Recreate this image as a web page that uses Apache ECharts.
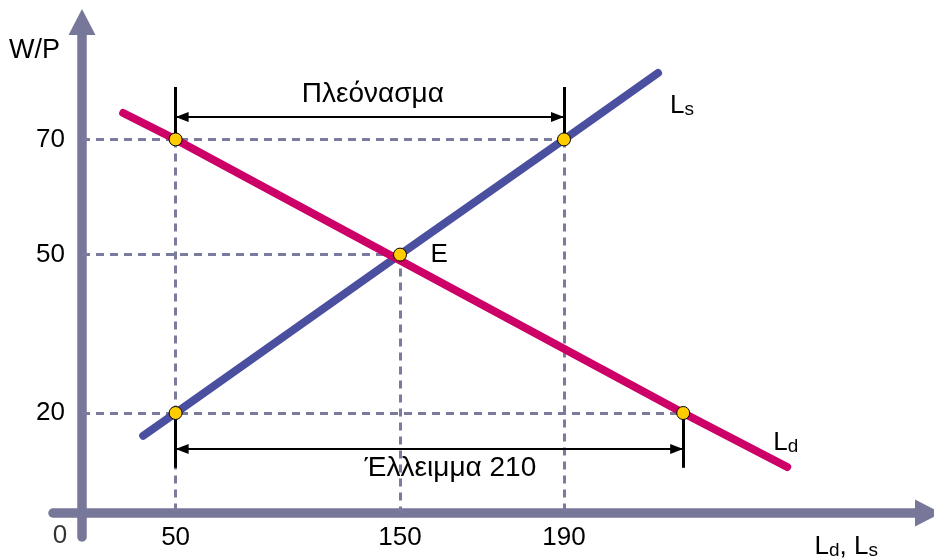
<!DOCTYPE html>
<html>
<head>
<meta charset="utf-8">
<script src="https://cdn.jsdelivr.net/npm/echarts@6/dist/echarts.min.js"></script>
<style>
html,body{margin:0;padding:0;background:#fff;}
#chart{width:934px;height:559px;}
</style>
</head>
<body>
<div id="chart"></div>
<script>
// Schematic labour-market diagram (not drawn to scale): values below are the
// positions of each labelled level along the drawn axes.
const wageTickLabels = ['70', '50', '20'];
const wageTickPos = [93.4, 64.6, 25.0];
const qtyTickLabels = ['50', '150', '190'];
const qtyTickPos = [23.4, 79.5, 120.5];
const qtyDemandAtLowWage = 150.3;           // Ld at W/P = 20  (50 + 210)

const supplyLine = [[15.3, 19.3], [23.4, 25.0], [79.5, 64.6], [120.5, 93.4], [144.0, 110.0]];
const demandLine = [[10.3, 100.0], [23.4, 93.4], [150.3, 25.0], [176.3, 11.5]];

const markedPoints = [[23.4, 93.4], [120.5, 93.4], [79.5, 64.6], [23.4, 25.0], [150.3, 25.0]];
const pointNames = ['', '', 'E', '', ''];

const surplusLevel = 99.0;      // level of the "surplus" arrow
const deficitLevel = 16.0;      // level of the "deficit" arrow
const bracketTop = 106.5;
const bracketBottom = 11.3;
const surplusText = 'Πλεόνασμα';
const deficitText = 'Έλλειμμα 210';

const FONT = "'Liberation Sans', Arial, Helvetica, sans-serif";
const AXIS_COLOR = '#77779a';
const GUIDE_COLOR = '#7b7b9e';
const SUPPLY_COLOR = '#4b4fa0';
const DEMAND_COLOR = '#cc0066';
const POINT_COLOR = '#ffcc00';
const ARROW_HEAD = [10, 13];

const subRich = {
  m: {fontFamily: FONT, fontSize: 26, color: '#000', lineHeight: 36, verticalAlign: 'bottom'},
  s: {fontFamily: FONT, fontSize: 19, color: '#000', lineHeight: 22, verticalAlign: 'bottom'}
};

function lookup(positions, labels) {
  return function (v) {
    const i = positions.findIndex(p => Math.abs(p - v) < 1e-6);
    return i >= 0 ? labels[i] : '';
  };
}

const w70 = wageTickPos[0], w50 = wageTickPos[1], w20 = wageTickPos[2];
const q50 = qtyTickPos[0], q150 = qtyTickPos[1], q190 = qtyTickPos[2];

const guideSegs = [
  [[0, w70], [q190, w70]],
  [[0, w50], [q150, w50]],
  [[0, w20], [qtyDemandAtLowWage, w20]],
  [[q50, w70], [q50, 0]],
  [[q150, w50], [q150, 0]],
  [[q190, w70], [q190, 0]]
];
const bracketSegs = [
  [[q50, bracketTop], [q50, w70]],
  [[q190, bracketTop], [q190, w70]],
  [[q50, w20], [q50, bracketBottom]],
  [[qtyDemandAtLowWage, w20], [qtyDemandAtLowWage, bracketBottom]]
];

function arrowEnd(coord, extra) {
  return Object.assign({coord: coord, symbol: 'triangle', symbolSize: ARROW_HEAD, symbolOffset: [0, ARROW_HEAD[1] / 2]}, extra || {});
}

const chart = echarts.init(document.getElementById('chart'));
chart.setOption({
  animation: false,
  backgroundColor: '#ffffff',
  grid: {left: 53, right: 6, top: 22, bottom: 22, containLabel: false, outerBoundsMode: 'none'},
  xAxis: {
    type: 'value', min: -7.25, max: 211.5,
    axisLine: {onZero: true, symbol: ['none', 'triangle'], symbolSize: [27, 26],
      lineStyle: {color: AXIS_COLOR, width: 9.5, cap: 'round'}},
    axisTick: {show: false},
    splitLine: {show: false},
    axisLabel: {customValues: qtyTickPos, formatter: lookup(qtyTickPos, qtyTickLabels),
      margin: -12, fontFamily: FONT, fontSize: 26, color: '#000'},
    name: '{m|L}{s|d}{m|, L}{s|s}',
    nameLocation: 'end', nameGap: -50, nameMoveOverlap: false,
    nameTextStyle: {align: 'right', verticalAlign: 'middle', padding: [58, 0, 0, 0], rich: subRich}
  },
  yAxis: {
    type: 'value', min: -6, max: 122.75,
    axisLine: {onZero: true, symbol: ['none', 'triangle'], symbolSize: [27, 26],
      lineStyle: {color: AXIS_COLOR, width: 9.5, cap: 'round'}},
    axisTick: {show: false},
    splitLine: {show: false},
    axisLabel: {customValues: wageTickPos, formatter: lookup(wageTickPos, wageTickLabels),
      margin: -12, fontFamily: FONT, fontSize: 26, color: '#000'},
    name: 'W/P',
    nameLocation: 'end', nameGap: -29, nameMoveOverlap: false,
    nameTextStyle: {align: 'right', verticalAlign: 'middle', padding: [0, 22, 0, 0],
      fontFamily: FONT, fontSize: 27, color: '#000'}
  },
  series: [
    {
      type: 'scatter', name: 'guides', data: [], silent: true,
      markLine: {
        silent: true, z: 1, symbol: 'none', animation: false,
        label: {show: false},
        lineStyle: {color: GUIDE_COLOR, width: 3, type: [8, 6], cap: 'butt'},
        data: guideSegs.map(s => [{coord: s[0]}, {coord: s[1]}])
      }
    },
    {
      type: 'line', name: 'Ls', data: supplyLine, showSymbol: false, symbol: 'none', silent: true, z: 2,
      lineStyle: {color: SUPPLY_COLOR, width: 8, cap: 'round'},
      endLabel: {show: true, formatter: '{m|L}{s|s}', offset: [4, 28], rich: subRich}
    },
    {
      type: 'line', name: 'Ld', data: demandLine, showSymbol: false, symbol: 'none', silent: true, z: 2,
      lineStyle: {color: DEMAND_COLOR, width: 8, cap: 'round'},
      endLabel: {show: true, formatter: '{m|L}{s|d}', offset: [-22, -29], rich: subRich}
    },
    {
      type: 'scatter', name: 'brackets', data: [], silent: true,
      markLine: {
        silent: true, z: 3, symbol: 'none', animation: false,
        label: {show: false},
        lineStyle: {color: '#000', width: 3, type: 'solid'},
        data: bracketSegs.map(s => [{coord: s[0]}, {coord: s[1]}])
      }
    },
    {
      type: 'scatter', name: 'gaps', data: [], silent: true,
      markLine: {
        silent: true, z: 3, animation: false,
        symbol: ['triangle', 'triangle'],
        symbolSize: 12,
        lineStyle: {color: '#000', width: 2, type: 'solid'},
        label: {show: true, fontFamily: FONT, fontSize: 28, color: '#000'},
        data: [
          [arrowEnd([q50, surplusLevel], {label: {formatter: surplusText, position: 'insideMiddleTop', distance: 9, offset: [3, 0]}}),
           arrowEnd([q190, surplusLevel])],
          [arrowEnd([q50, deficitLevel], {label: {formatter: deficitText, position: 'insideMiddleBottom', distance: 5, offset: [21, 0]}}),
           arrowEnd([qtyDemandAtLowWage, deficitLevel])]
        ]
      }
    },
    {
      type: 'scatter', name: 'points', z: 10, silent: true,
      symbolSize: 13,
      itemStyle: {color: POINT_COLOR, borderColor: '#000', borderWidth: 1, opacity: 1},
      label: {position: 'right', distance: 23.5, fontFamily: FONT, fontSize: 26, color: '#000'},
      data: markedPoints.map((p, i) => ({
        value: p,
        label: {show: pointNames[i] !== '', formatter: pointNames[i]}
      }))
    },
    {
      type: 'scatter', name: 'origin', z: 10, silent: true, symbolSize: 0,
      data: [[0, 0]],
      label: {show: true, formatter: '0', position: 'inside', offset: [-22, 23],
        fontFamily: FONT, fontSize: 26, color: '#000'}
    }
  ]
});
</script>
</body>
</html>
